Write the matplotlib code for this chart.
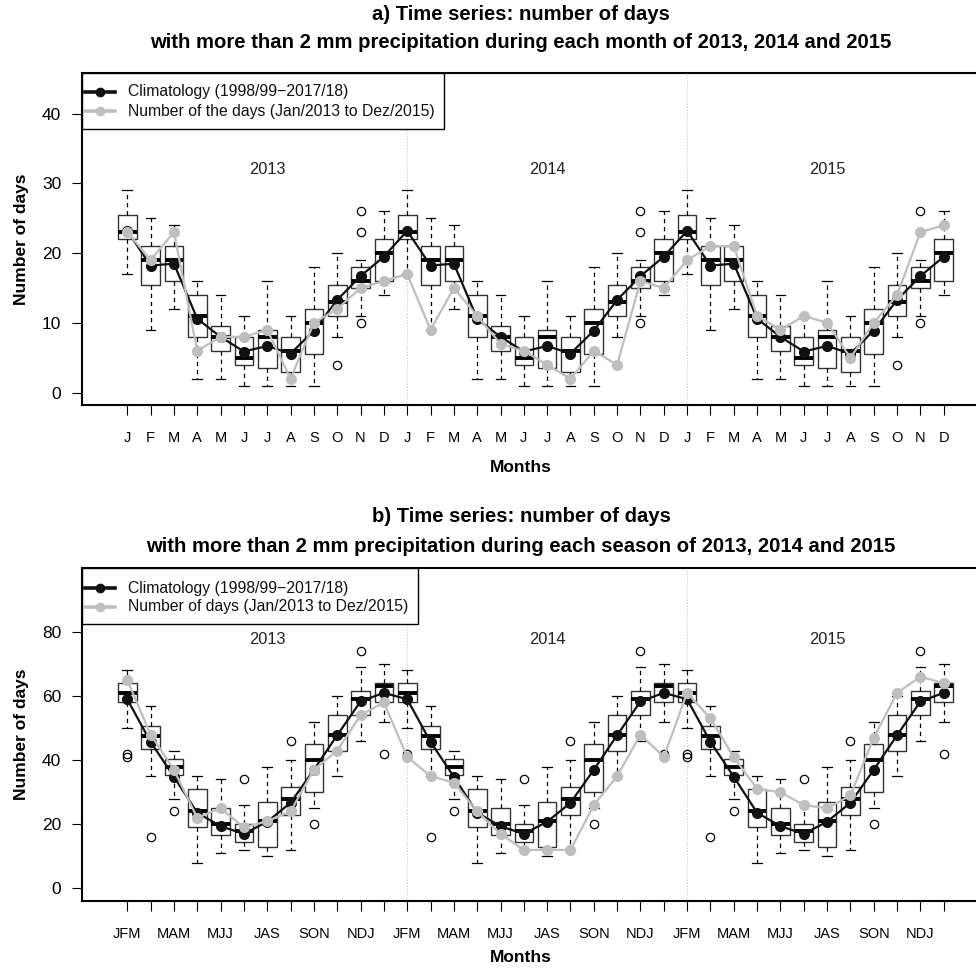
import matplotlib
matplotlib.use("Agg")
import matplotlib.pyplot as plt
from matplotlib.lines import Line2D
from matplotlib.patches import Rectangle

plt.rcParams['font.family'] = ['Liberation Sans', 'DejaVu Sans']

years = ["2013", "2014", "2015"]
months = ["J", "F", "M", "A", "M", "J", "J", "A", "S", "O", "N", "D"]
seasons = ["JFM", "FMA", "MAM", "AMJ", "MJJ", "JJA", "JAS", "ASO", "SON", "OND", "NDJ", "DJF"]

# Monthly climatology distribution (1998/99-2017/18): whisker low, Q1, median, Q3, whisker high
m_whislo = [17, 9, 12, 2, 2, 1, 1, 1, 1, 8, 11, 14]
m_q1     = [22, 15.5, 16, 8, 6, 4, 3.5, 3, 5.5, 11, 15, 16]
m_med    = [23, 19, 19, 11, 8, 5, 8, 6, 10, 13, 16, 20]
m_q3     = [25.5, 21, 21, 14, 9.5, 8, 9, 8, 12, 15.5, 18, 22]
m_whishi = [29, 25, 24, 16, 14, 11, 16, 11, 18, 20, 19, 26]
m_fliers = [[], [], [], [], [], [], [], [], [], [4], [26, 23, 10], []]
m_clim   = [23.2, 18.2, 18.5, 10.6, 8.0, 5.9, 6.7, 5.6, 8.9, 13.3, 16.7, 19.5]

# Observed monthly counts, Jan/2013 to Dec/2015
m_obs_2013 = [23, 19, 23, 6, 8, 8, 9, 2, 10, 12, 15, 16]
m_obs_2014 = [17, 9, 15, 11, 7, 6, 4, 2, 6, 4, 16, 15]
m_obs_2015 = [19, 21, 21, 11, 9, 11, 10, 5, 10, 14, 23, 24]

# Seasonal climatology distribution
s_whislo = [50, 35, 28, 8, 11, 12, 10, 12, 25, 35, 46, 52]
s_q1     = [58, 43.5, 35.5, 19, 16.5, 14.5, 13, 23, 30, 43, 54, 58]
s_med    = [61, 47.5, 38, 24, 20, 18, 21, 28, 40, 48, 59, 63]
s_q3     = [64, 50.5, 40.5, 31, 25, 20, 27, 31.5, 45, 54, 61.5, 64]
s_whishi = [68, 57, 43, 35, 34, 26, 38, 40, 52, 60, 69, 70]
s_fliers = [[42, 41], [16], [24], [], [], [34], [], [46], [20], [], [74], [42]]
s_clim   = [59.0, 45.7, 34.8, 23.6, 19.4, 17.0, 20.8, 26.7, 37.0, 47.8, 58.3, 61.0]

# Observed seasonal counts
s_obs_2013 = [65, 48, 37, 22, 25, 19, 21, 24, 37, 43, 54, 58]
s_obs_2014 = [41, 35, 33, 24, 17, 12, 12, 12, 26, 35, 48, 41]
s_obs_2015 = [61, 53, 41, 31, 30, 26, 25, 29, 47, 61, 66, 64]

CLIM_LABEL = "Climatology (1998/99\u22122017/18)"
BLACK = "#111111"
GRAY = "#BEBEBE"
W, H = 976, 971


def fx(x):
    return x / W


def fy(y):
    return 1 - y / H


def box_stats(lo, q1, med, q3, hi, fl):
    out = []
    for i in range(len(med)):
        out.append(dict(whislo=lo[i], q1=q1[i], med=med[i], q3=q3[i],
                        whishi=hi[i], fliers=fl[i]))
    return out * len(years)


def legend_box(fig, x0, y0, x1, y1, rows, labels):
    """R-style legend drawn in figure pixel positions."""
    fig.add_artist(Rectangle((fx(x0), fy(y1)), fx(x1) - fx(x0), fy(y0) - fy(y1),
                             transform=fig.transFigure, facecolor="white",
                             edgecolor="black", linewidth=1.0, zorder=20))
    for (ry, col, lab) in zip(rows, [BLACK, GRAY], labels):
        fig.add_artist(Line2D([fx(x0 + 3), fx(x0 + 33)], [fy(ry), fy(ry)],
                              transform=fig.transFigure, color=col, lw=2.6,
                              zorder=21))
        fig.add_artist(Line2D([fx(x0 + 18)], [fy(ry)], transform=fig.transFigure,
                              color=col, marker="o", ms=6, zorder=22))
        fig.text(fx(x0 + 46), fy(ry), lab, ha="left", va="center",
                 fontsize=11.3, color="#111111", zorder=23)


def panel(ax, stats, clim, obs, xlabels, label_every, ylim, yticks, year_y):
    n = len(stats)
    pos = list(range(1, n + 1))
    ax.bxp(stats, positions=pos, widths=0.8, showfliers=True,
           patch_artist=True, manage_ticks=False, capwidths=0.42,
           boxprops=dict(facecolor="white", edgecolor="#333333", linewidth=1.0),
           medianprops=dict(color="black", linewidth=2.8, solid_capstyle="butt"),
           whiskerprops=dict(color="black", linewidth=0.9, linestyle=(0, (3.5, 3))),
           capprops=dict(color="black", linewidth=0.9),
           flierprops=dict(marker="o", markerfacecolor="none",
                           markeredgecolor="black", markersize=6,
                           markeredgewidth=0.9))
    for p in (13, 25):
        ax.axvline(p, color="#BBBBBB", linestyle=(0, (1, 2)), linewidth=0.7,
                   zorder=1)
    ax.plot(pos, clim * len(years), color=BLACK, linewidth=1.6,
            marker="o", markersize=7, zorder=4)
    ax.plot(pos, obs, color=GRAY, linewidth=1.6, marker="o", markersize=7,
            zorder=5)
    ax.set_xlim(-0.94, 37.94)
    ax.set_ylim(*ylim)
    ax.set_yticks(yticks)
    ax.set_xticks(pos)
    ax.set_xticklabels([xlabels[i % 12] if i % label_every == 0 else ""
                        for i in range(n)])
    ax.tick_params(axis="y", labelsize=12.5, length=7, width=0.8, pad=8)
    ax.tick_params(axis="x", labelsize=10.5, length=7, width=0.8, pad=12)
    for s in ax.spines.values():
        s.set_linewidth(1.5)
    for k, yr in enumerate(years):
        ax.text(7 + 12 * k, year_y, yr, ha="center", va="center",
                fontsize=11.8, color="#222222")


fig = plt.figure(figsize=(W / 100, H / 100), dpi=100)

ax1 = fig.add_axes([fx(82), fy(405), 907 / W, 331.7 / H])
ax2 = fig.add_axes([fx(82), fy(900.7), 907 / W, 332.4 / H])

panel(ax1,
      box_stats(m_whislo, m_q1, m_med, m_q3, m_whishi, m_fliers),
      m_clim, m_obs_2013 + m_obs_2014 + m_obs_2015,
      months, 1, (-1.76, 45.76), [0, 10, 20, 30, 40], 32)
panel(ax2,
      box_stats(s_whislo, s_q1, s_med, s_q3, s_whishi, s_fliers),
      s_clim, s_obs_2013 + s_obs_2014 + s_obs_2015,
      seasons, 2, (-3.84, 99.84), [0, 20, 40, 60, 80], 77.5)

legend_box(fig, 82, 73.3, 444, 129, [91.7, 111.3],
           [CLIM_LABEL, "Number of the days (Jan/2013 to Dez/2015)"])
legend_box(fig, 82, 568.3, 418, 624, [588.3, 606.7],
           [CLIM_LABEL, "Number of days (Jan/2013 to Dez/2015)"])

cx = fx(521)
title_kw = dict(ha="center", va="center", fontsize=14.6, fontweight="bold")
fig.text(cx, fy(14), "a) Time series: number of days", **title_kw)
fig.text(cx, fy(43),
         "with more than 2 mm precipitation during each month of 2013, 2014 and 2015",
         **title_kw)
fig.text(cx, fy(517), "b) Time series: number of days", **title_kw)
fig.text(cx, fy(547),
         "with more than 2 mm precipitation during each season of 2013, 2014 and 2015",
         **title_kw)

lab_kw = dict(ha="center", va="center", fontsize=12.5, fontweight="bold")
fig.text(cx, fy(467), "Months", **lab_kw)
fig.text(cx, fy(957), "Months", **lab_kw)
fig.text(fx(22), fy(239), "Number of days", rotation=90, **lab_kw)
fig.text(fx(22), fy(734.5), "Number of days", rotation=90, **lab_kw)

fig.savefig("out.png", dpi=100)
